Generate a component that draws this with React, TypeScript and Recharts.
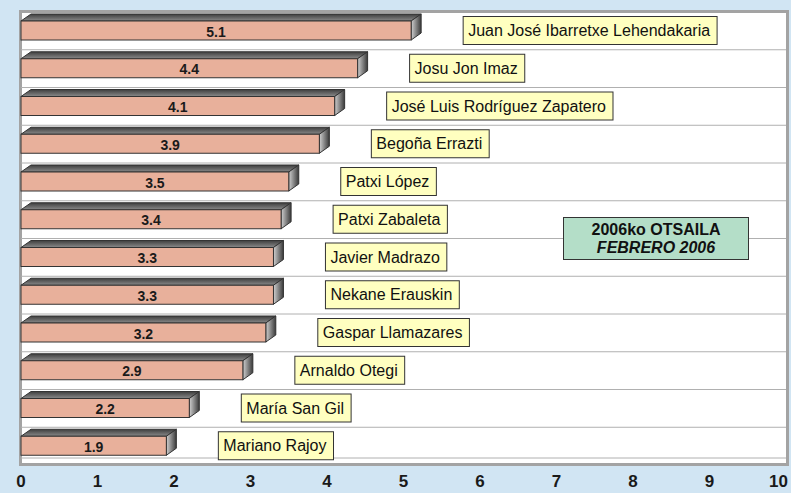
import React from 'react';
import { BarChart, Bar, XAxis, YAxis, CartesianGrid, LabelList } from 'recharts';

// valoración de líderes políticos (0-10)
const politicians = [
    'Juan José Ibarretxe Lehendakaria',
    'Josu Jon Imaz',
    'José Luis Rodríguez Zapatero',
    'Begoña Errazti',
    'Patxi López',
    'Patxi Zabaleta',
    'Javier Madrazo',
    'Nekane Erauskin',
    'Gaspar Llamazares',
    'Arnaldo Otegi',
    'María San Gil',
    'Mariano Rajoy',
];
const scores = [5.1, 4.4, 4.1, 3.9, 3.5, 3.4, 3.3, 3.3, 3.2, 2.9, 2.2, 1.9];
const xTicks = [0, 1, 2, 3, 4, 5, 6, 7, 8, 9, 10];
const noteLines = ['2006ko OTSAILA', 'FEBRERO 2006'];

const data = politicians.map((name, i) => ({ name, score: scores[i] }));

const FONT = '"Liberation Sans", Arial, sans-serif';
const DEPTH_X = 10;
const DEPTH_Y = 7;

let measureCtx: CanvasRenderingContext2D | null = null;
function textWidth(text: string, size: number) {
    if (!measureCtx) {
        measureCtx = document.createElement('canvas').getContext('2d');
    }
    if (!measureCtx) return text.length * size * 0.5;
    measureCtx.font = `${size}px ${FONT}`;
    return measureCtx.measureText(text).width;
}

function Bar3D(props: any) {
    const { x, y, width, height } = props;
    const dx = DEPTH_X;
    const dy = DEPTH_Y;
    return (
        <g>
            <polygon
                points={`${x},${y} ${x + dx},${y - dy} ${x + width + dx},${y - dy} ${x + width},${y}`}
                fill="url(#topFace)"
                stroke="#333"
                strokeWidth={1}
            />
            <polygon
                points={`${x + width},${y} ${x + width + dx},${y - dy} ${x + width + dx},${y + height - dy} ${x + width},${y + height}`}
                fill="url(#sideFace)"
                stroke="#333"
                strokeWidth={1}
            />
            <rect x={x} y={y} width={width} height={height} fill="#e8b09b" stroke="#333" strokeWidth={1} />
        </g>
    );
}

function ValueTag(props: any) {
    const { x, y, width, height, value } = props;
    return (
        <text
            x={Number(x) + Number(width) / 2}
            y={Number(y) + Number(height) / 2 + 1}
            dominantBaseline="central"
            textAnchor="middle"
            fontSize={14}
            fontWeight="bold"
            fill="#1a1a1a"
            fontFamily={FONT}
        >
            {Number(value).toFixed(1)}
        </text>
    );
}

function NameTag(props: any) {
    const { x, y, width, height, value } = props;
    const label = String(value);
    const w = textWidth(label, 16) + 12;
    const bx = Number(x) + Number(width) + 52;
    const cy = Number(y) + Number(height) / 2;
    return (
        <g>
            <rect x={bx} y={cy - 14} width={w} height={28} fill="#ffffc0" stroke="#333" strokeWidth={1} />
            <text x={bx + 5} y={cy} dominantBaseline="central" fontSize={16} fill="#111" fontFamily={FONT}>
                {label}
            </text>
        </g>
    );
}

function AxisTick({ x, y, payload }: any) {
    const last = payload.value === xTicks[xTicks.length - 1];
    return (
        <text
            x={last ? x + 2 : x}
            y={y + 2}
            dy="0.71em"
            textAnchor={last ? 'end' : 'middle'}
            fontSize={17}
            fontWeight="bold"
            fill="#1a1a1a"
            fontFamily={FONT}
        >
            {payload.value}
        </text>
    );
}

export default function App() {
    return (
        <div
            style={{
                position: 'relative',
                width: 791,
                height: 493,
                background: '#d1e5f3',
                fontFamily: FONT,
                overflow: 'hidden',
            }}
        >
            <style>{'body{margin:0}'}</style>
            <div
                style={{
                    position: 'absolute',
                    left: 19,
                    top: 10,
                    width: 770,
                    height: 456,
                    boxSizing: 'border-box',
                    border: '3px solid #a3a3a3',
                    background: '#fff',
                }}
            />
            <div style={{ position: 'absolute', left: 0, top: 0 }}>
                <BarChart
                    width={791}
                    height={493}
                    data={data}
                    layout="vertical"
                    margin={{ top: 12, right: 5, left: 21, bottom: 0 }}
                >
                    <defs>
                        <linearGradient id="topFace" x1="0" y1="0" x2="0" y2="1">
                            <stop offset="0%" stopColor="#3e3e3e" />
                            <stop offset="100%" stopColor="#8a8a8a" />
                        </linearGradient>
                        <linearGradient id="sideFace" x1="0" y1="0" x2="1" y2="0">
                            <stop offset="0%" stopColor="#d0d0d0" />
                            <stop offset="100%" stopColor="#3a3a3a" />
                        </linearGradient>
                    </defs>
                    <CartesianGrid
                        vertical={false}
                        stroke="#b0b0b0"
                        horizontalCoordinatesGenerator={({ offset }: any) => {
                            const band = offset.height / politicians.length;
                            const lines = politicians.slice(1).map((_, i) => offset.top + band * (i + 1));
                            lines.push(offset.top + offset.height - DEPTH_Y);
                            return lines;
                        }}
                    />
                    <XAxis
                        type="number"
                        domain={[0, 10]}
                        ticks={xTicks}
                        axisLine={false}
                        tickLine={false}
                        height={28}
                        interval={0}
                        tick={<AxisTick />}
                    />
                    <YAxis type="category" dataKey="name" hide />
                    <Bar dataKey="score" barSize={19} shape={<Bar3D />} isAnimationActive={false}>
                        <LabelList dataKey="score" content={<ValueTag />} />
                        <LabelList dataKey="name" content={<NameTag />} />
                    </Bar>
                </BarChart>
            </div>
            <div
                style={{
                    position: 'absolute',
                    left: 563,
                    top: 217,
                    width: 186,
                    height: 43,
                    boxSizing: 'border-box',
                    border: '1px solid #333',
                    background: '#b4dec8',
                    color: '#111',
                    fontSize: 16,
                    fontWeight: 'bold',
                    lineHeight: '18px',
                    textAlign: 'center',
                    paddingTop: 3,
                }}
            >
                <div>{noteLines[0]}</div>
                <div style={{ fontStyle: 'italic' }}>{noteLines[1]}</div>
            </div>
        </div>
    );
}
